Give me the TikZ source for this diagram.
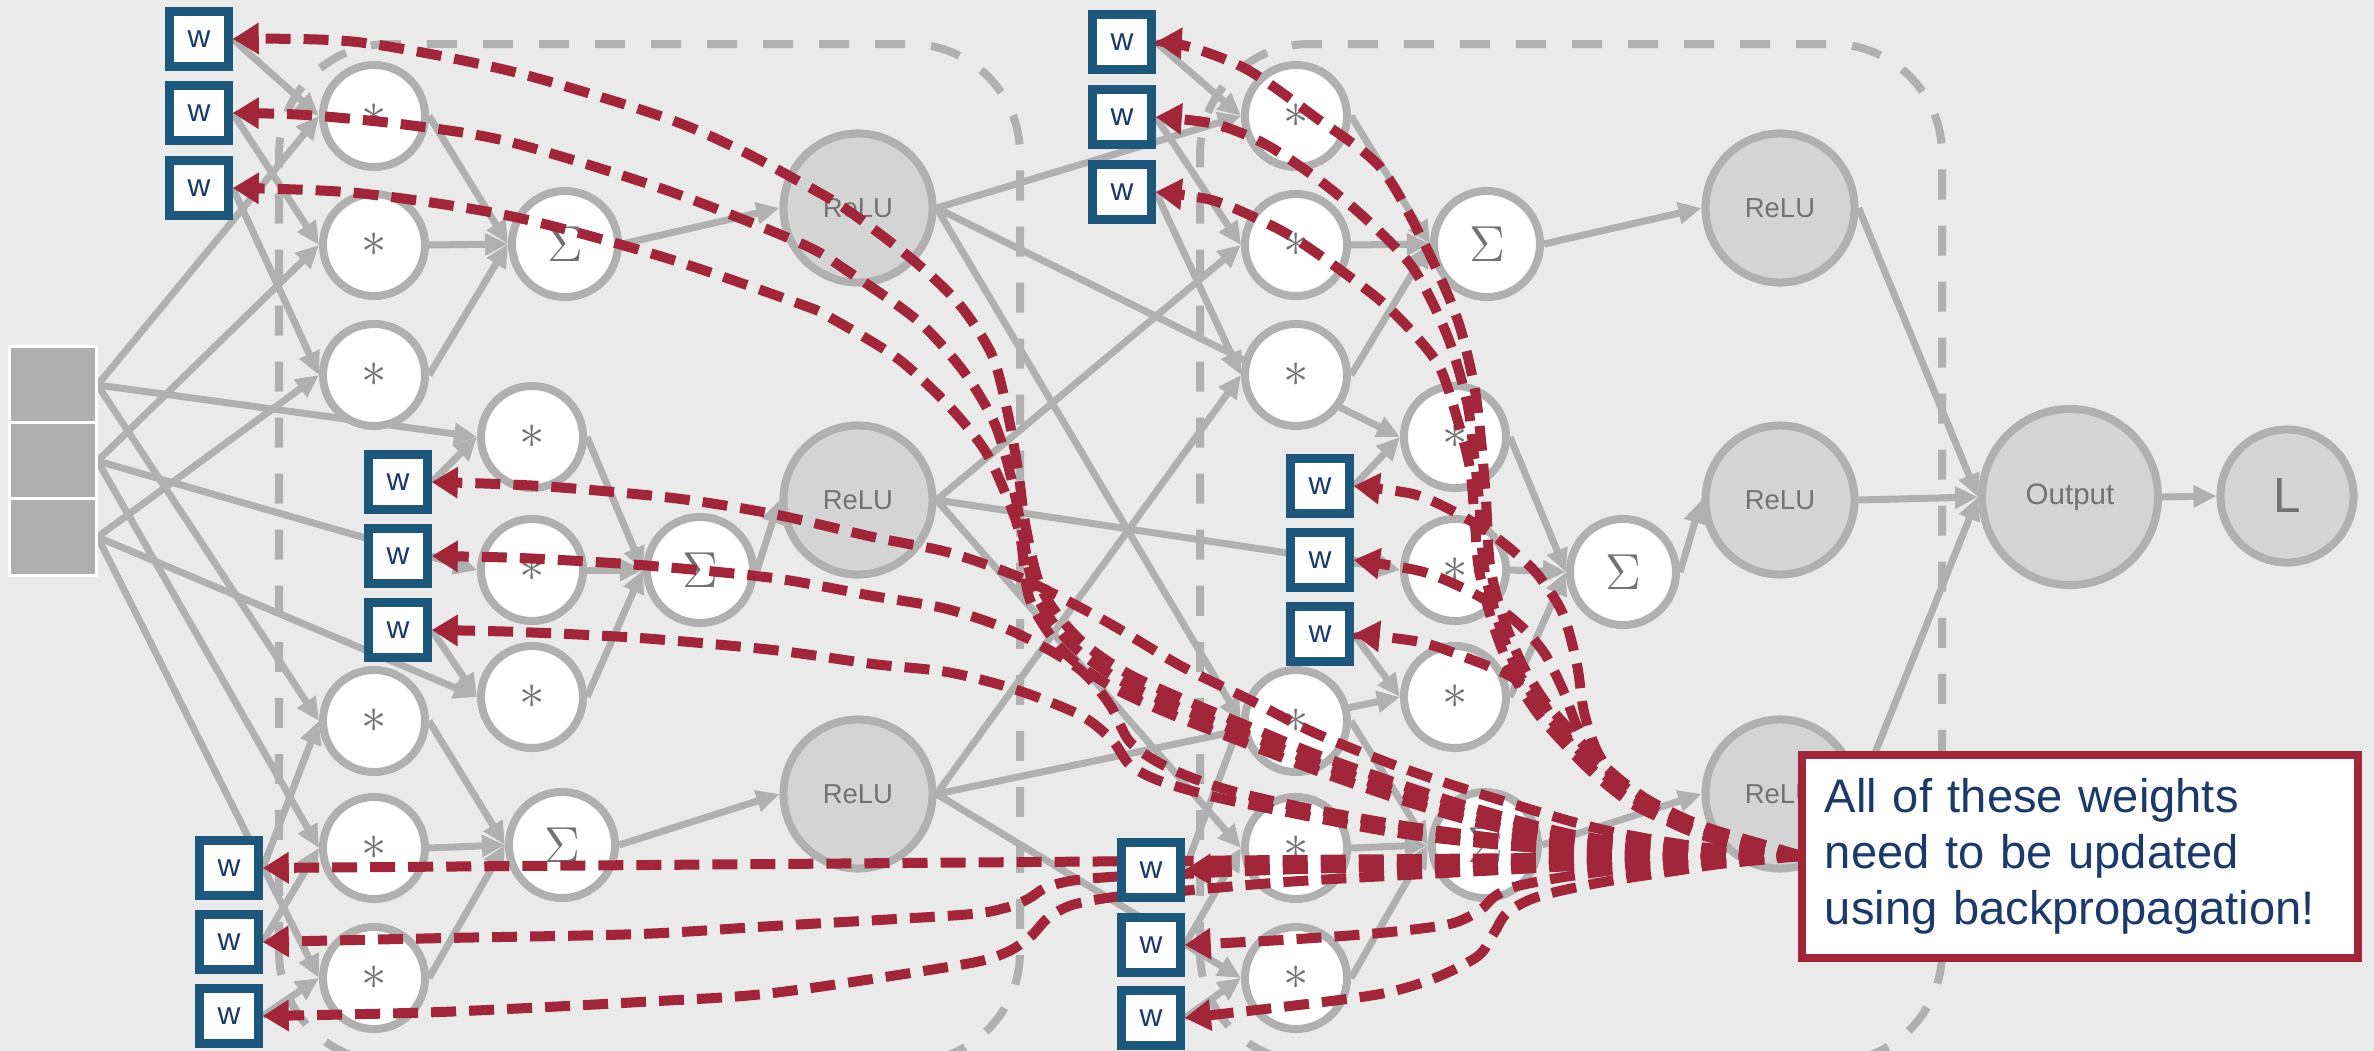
\documentclass[tikz,border=0pt]{standalone}
\usepackage{fontspec}
\setsansfont{Liberation Sans}
\usetikzlibrary{arrows.meta}

\definecolor{bgc}{HTML}{EAEAEA}
\definecolor{edgec}{HTML}{B0B0B0}
\definecolor{relufill}{HTML}{D4D4D4}
\definecolor{lblc}{HTML}{727272}
\definecolor{wframe}{HTML}{1D587C}
\definecolor{navy}{HTML}{1B3A6B}
\definecolor{crim}{HTML}{A1263A}
\definecolor{sqfill}{HTML}{AFAFAF}

\pgfdeclarelayer{background}
\pgfdeclarelayer{lines}
\pgfdeclarelayer{red}
\pgfdeclarelayer{top}
\pgfsetlayers{background,lines,main,red,top}

\tikzset{
  unitnode/.style={circle, draw=edgec, line width=0.08cm, inner sep=0pt, text=lblc},
  mulnode/.style={unitnode, fill=white, minimum size=1.02cm, font=\fontsize{14}{15}\selectfont},
  sumnode/.style={unitnode, fill=white, minimum size=1.06cm, font=\fontsize{14}{15}\selectfont},
  relunode/.style={unitnode, fill=relufill, minimum size=1.49cm, font=\sffamily\fontsize{7.8}{9}\selectfont},
  outnode/.style={unitnode, fill=relufill, minimum size=1.76cm, font=\sffamily\fontsize{8.4}{10}\selectfont},
  lossnode/.style={unitnode, fill=relufill, minimum size=1.33cm, font=\sffamily\fontsize{14}{16}\selectfont},
  wnode/.style={rectangle, draw=wframe, line width=0.085cm, fill=white, minimum width=0.59cm, minimum height=0.55cm, inner sep=0pt, text=navy, font=\sffamily\fontsize{9}{10}\selectfont},
  incell/.style={rectangle, fill=sqfill, draw=white, line width=0.03cm, minimum width=0.86cm, minimum height=0.76cm},
  linkarrow/.style={draw=edgec, line width=0.07cm, -{Triangle[length=0.23cm,width=0.21cm]}},
  groupbox/.style={draw=edgec, line width=0.08cm, dash pattern=on 0.3cm off 0.26cm, rounded corners=1.1cm},
  backarrow/.style={draw=crim, line width=0.1cm, dash pattern=on 0.25cm off 0.13cm, -{Triangle[length=0.26cm,width=0.3cm]}},
  notebox/.style={rectangle, draw=crim, line width=0.08cm, fill=white, minimum width=5.56cm, minimum height=2.03cm, text width=5.1cm, align=left, inner sep=0pt, text=navy, font=\sffamily\fontsize{13.4}{16}\selectfont}
}

\begin{document}
\begin{tikzpicture}[x=0.01cm, y=-0.01cm]
\useasboundingbox (0,0) rectangle (2374,1051);

% backdrop and the two dashed layer outlines
\begin{pgfonlayer}{background}
  \fill[bgc] (0,0) rectangle (2374,1051);
  \draw[groupbox] (279,1062) -- (279,44) -- (1020,44) -- (1020,1062) -- cycle;
  \draw[groupbox] (1200,1062) -- (1200,44) -- (1942,44) -- (1942,1062) -- cycle;
\end{pgfonlayer}

% input vector
\node[incell] (sq1) at (53,385) {};
\node[incell] (sq2) at (53,461) {};
\node[incell] (sq3) at (53,537) {};

% first layer: products, sums, activations
\node[mulnode] (A1) at (374,116) {$\ast$};
\node[mulnode] (A2) at (374,245) {$\ast$};
\node[mulnode] (A3) at (374,375) {$\ast$};
\node[sumnode] (S1) at (565,244) {$\Sigma$};
\node[mulnode] (B1) at (532,437) {$\ast$};
\node[mulnode] (B2) at (532,570) {$\ast$};
\node[mulnode] (B3) at (532,697) {$\ast$};
\node[sumnode] (S2) at (700,570) {$\Sigma$};
\node[mulnode] (C1) at (374,721) {$\ast$};
\node[mulnode] (C2) at (374,848) {$\ast$};
\node[mulnode] (C3) at (374,978) {$\ast$};
\node[sumnode] (S3) at (562,845) {$\Sigma$};
\node[relunode] (R1) at (858,208) {ReLU};
\node[relunode] (R2) at (858,500) {ReLU};
\node[relunode] (R3) at (858,794) {ReLU};

% second layer
\node[mulnode] (D1) at (1296,116) {$\ast$};
\node[mulnode] (D2) at (1296,245) {$\ast$};
\node[mulnode] (D3) at (1296,375) {$\ast$};
\node[sumnode] (S4) at (1487,244) {$\Sigma$};
\node[mulnode] (E1) at (1455,437) {$\ast$};
\node[mulnode] (E2) at (1455,570) {$\ast$};
\node[mulnode] (E3) at (1455,697) {$\ast$};
\node[sumnode] (S5) at (1623,572) {$\Sigma$};
\node[mulnode] (F1) at (1296,721) {$\ast$};
\node[mulnode] (F2) at (1296,848) {$\ast$};
\node[mulnode] (F3) at (1296,978) {$\ast$};
\node[sumnode] (S6) at (1485,845) {$\Sigma$};
\node[relunode] (Q1) at (1780,208) {ReLU};
\node[relunode] (Q2) at (1780,500) {ReLU};
\node[relunode] (Q3) at (1780,794) {ReLU};

% output and loss
\node[outnode] (Out) at (2070,497) {Output};
\node[lossnode] (L) at (2287,496) {L};

% weights
\begin{pgfonlayer}{top}
  \node[wnode] (wA1) at (199,39) {w};
  \node[wnode] (wA2) at (199,113) {w};
  \node[wnode] (wA3) at (199,188) {w};
  \node[wnode] (wB1) at (398,482) {w};
  \node[wnode] (wB2) at (398,556) {w};
  \node[wnode] (wB3) at (398,630) {w};
  \node[wnode] (wC1) at (229,868) {w};
  \node[wnode] (wC2) at (229,942) {w};
  \node[wnode] (wC3) at (229,1016) {w};
  \node[wnode] (wD1) at (1122,42) {w};
  \node[wnode] (wD2) at (1122,117) {w};
  \node[wnode] (wD3) at (1122,192) {w};
  \node[wnode] (wE1) at (1320,486) {w};
  \node[wnode] (wE2) at (1320,560) {w};
  \node[wnode] (wE3) at (1320,634) {w};
  \node[wnode] (wF1) at (1151,870) {w};
  \node[wnode] (wF2) at (1151,945) {w};
  \node[wnode] (wF3) at (1151,1018) {w};
  \node[notebox] (note) at (2080,856.5) {All of these weights\\need to be updated\\using backpropagation!};
\end{pgfonlayer}

% forward connections
\begin{pgfonlayer}{lines}
  \foreach \s/\t in {sq1/A1, sq2/A2, sq3/A3, sq1/B1, sq2/B2, sq3/B3, sq1/C1, sq2/C2, sq3/C3,
      wA1/A1, wA2/A2, wA3/A3, wB1/B1, wB2/B2, wB3/B3, wC1/C1, wC2/C2, wC3/C3,
      A1/S1, A2/S1, A3/S1, B1/S2, B2/S2, B3/S2, C1/S3, C2/S3, C3/S3,
      S1/R1, S2/R2, S3/R3,
      R1/D1, R2/D2, R3/D3, R1/E1, R2/E2, R3/E3, R1/F1, R2/F2, R3/F3,
      wD1/D1, wD2/D2, wD3/D3, wE1/E1, wE2/E2, wE3/E3, wF1/F1, wF2/F2, wF3/F3,
      D1/S4, D2/S4, D3/S4, E1/S5, E2/S5, E3/S5, F1/S6, F2/S6, F3/S6,
      S4/Q1, S5/Q2, S6/Q3, Q1/Out, Q2/Out, Q3/Out, Out/L}
    \draw[linkarrow] (\s.east) -- (\t.west);
\end{pgfonlayer}

% gradient paths from the note back to every weight
\coordinate (co) at (1802,856);
\begin{pgfonlayer}{red}
  \draw[backarrow] plot[smooth] coordinates {(co) (1700,851) (1580,836) (1480,810) (1405,786) (1315,754) (1250,727) (1185,700) (1125,672) (1078,638) (1042,590) (1026,528) (1018,470) (1007,410) (992,355) (959,304) (913,260) (846,209) (800,182) (740,150) (663,117) (510,71) (357,42) (wA1.east)};
  \draw[backarrow] plot[smooth] coordinates {(co) (1700,853) (1580,840) (1480,817) (1405,794) (1315,762) (1248,735) (1180,708) (1120,680) (1072,645) (1036,595) (1022,530) (1010,473) (994,422) (964,372) (918,321) (846,270) (800,243) (663,189) (510,142) (408,125) (306,115) (wA2.east)};
  \draw[backarrow] plot[smooth] coordinates {(co) (1700,854) (1580,844) (1480,823) (1405,801) (1315,770) (1245,743) (1175,716) (1114,688) (1064,652) (1030,600) (1020,535) (1004,490) (984,449) (948,405) (897,358) (831,318) (800,304) (663,257) (510,216) (357,193) (wA3.east)};
  \draw[backarrow] plot[smooth] coordinates {(co) (1700,847) (1600,829) (1500,800) (1405,769) (1315,733) (1248,699) (1181,666) (1114,626) (1064,599) (1014,575) (947,552) (873,537) (773,514) (673,498) (540,486) (wB1.east)};
  \draw[backarrow] plot[smooth] coordinates {(co) (1700,852) (1550,844) (1405,826) (1282,803) (1215,786) (1165,766) (1130,742) (1110,705) (1078,668) (1014,632) (947,609) (873,596) (773,578) (640,565) (520,558) (wB2.east)};
  \draw[backarrow] plot[smooth] coordinates {(co) (1700,855) (1550,849) (1405,834) (1282,811) (1215,797) (1160,781) (1130,765) (1112,740) (1080,715) (1014,689) (947,672) (873,664) (773,650) (640,638) (520,632) (wB3.east)};
  \draw[backarrow] (co) -- (wC1.east);
  \draw[backarrow] plot[smooth] coordinates {(co) (1650,860) (1500,864) (1300,869) (1181,874) (1110,877) (1070,881) (1045,888) (1028,899) (1005,908) (960,915) (773,926) (640,934) (447,938) (wC2.east)};
  \draw[backarrow] plot[smooth] coordinates {(co) (1650,862) (1500,870) (1300,881) (1181,891) (1114,897) (1072,905) (1048,918) (1030,937) (1005,953) (960,965) (773,993) (640,1002) (440,1012) (wC3.east)};
  \draw[backarrow] plot[smooth] coordinates {(co) (1765,845) (1700,825) (1645,798) (1602,764) (1568,728) (1544,700) (1521,662) (1502,614) (1490,565) (1486,500) (1481,440) (1474,385) (1457,318) (1423,241) (1380,167) (1315,117) (1248,70) (1190,47) (wD1.east)};
  \draw[backarrow] plot[smooth] coordinates {(co) (1765,847) (1698,828) (1640,802) (1597,768) (1562,732) (1540,706) (1516,668) (1497,618) (1484,567) (1479,500) (1474,455) (1467,402) (1447,335) (1413,268) (1365,218) (1315,177) (1265,144) (1215,124) (wD2.east)};
  \draw[backarrow] plot[smooth] coordinates {(co) (1765,849) (1695,831) (1636,806) (1592,772) (1557,736) (1535,710) (1511,671) (1492,621) (1479,570) (1475,525) (1470,469) (1457,418) (1440,368) (1415,335) (1382,302) (1332,264) (1282,231) (1215,201) (wD3.east)};
  \draw[backarrow] plot[smooth] coordinates {(co) (1731,843) (1665,816) (1621,783) (1598,753) (1584,712) (1577,665) (1563,614) (1538,575) (1513,551) (1487,531) (1453,511) (1413,494) (wE1.east)};
  \draw[backarrow] plot[smooth] coordinates {(co) (1748,843) (1681,820) (1631,793) (1600,762) (1578,728) (1563,690) (1545,654) (1523,628) (1497,607) (1463,588) (1420,571) (wE2.east)};
  \draw[backarrow] plot[smooth] coordinates {(co) (1750,848) (1690,831) (1640,806) (1602,778) (1575,750) (1556,722) (1536,695) (1510,676) (1470,659) (1420,642) (wE3.east)};
  \draw[backarrow] (co) -- (wF1.east);
  \draw[backarrow] plot[smooth] coordinates {(co) (1720,861) (1648,866) (1564,877) (1514,887) (1494,897) (1480,910) (1450,924) (1380,933) (1282,940) (wF2.east)};
  \draw[backarrow] plot[smooth] coordinates {(co) (1720,864) (1681,870) (1598,883) (1537,897) (1507,913) (1494,933) (1478,956) (1435,978) (1380,994) (1282,1007) (wF3.east)};
\end{pgfonlayer}
\end{tikzpicture}
\end{document}
